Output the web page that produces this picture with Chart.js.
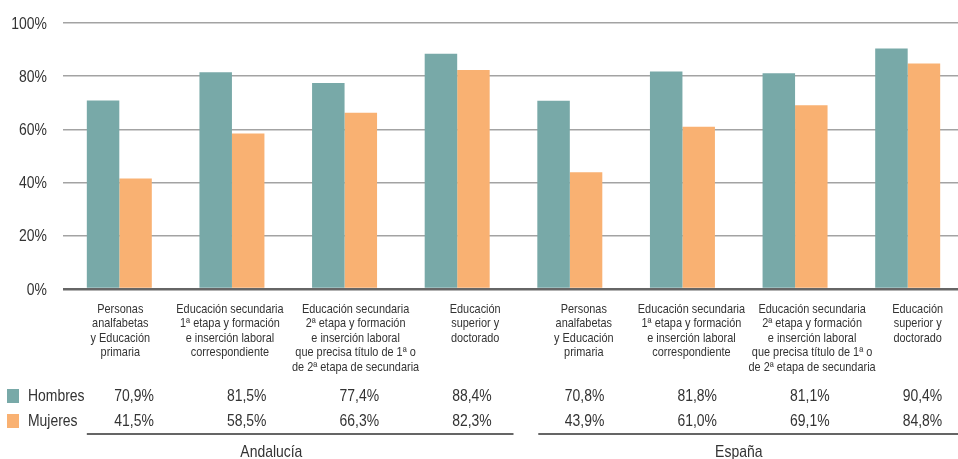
<!DOCTYPE html>
<html>
<head>
<meta charset="utf-8">
<script src="https://cdn.jsdelivr.net/npm/chart.js@4"></script>
<style>
    html, body { margin: 0; padding: 0; background: #fff; overflow: hidden; }
    #wrap { width: 964px; height: 459px; }
</style>
</head>
<body>
<div id="wrap"><canvas id="eduChart" width="964" height="459"></canvas></div>
<script>
// Datos - tasa de empleo por nivel de formación
const categorias = [
    ['Personas', 'analfabetas', 'y Educación', 'primaria'],
    ['Educación secundaria', '1ª etapa y formación', 'e inserción laboral', 'correspondiente'],
    ['Educación secundaria', '2ª etapa y formación', 'e inserción laboral', 'que precisa título de 1ª o', 'de 2ª etapa de secundaria'],
    ['Educación', 'superior y', 'doctorado'],
    ['Personas', 'analfabetas', 'y Educación', 'primaria'],
    ['Educación secundaria', '1ª etapa y formación', 'e inserción laboral', 'correspondiente'],
    ['Educación secundaria', '2ª etapa y formación', 'e inserción laboral', 'que precisa título de 1ª o', 'de 2ª etapa de secundaria'],
    ['Educación', 'superior y', 'doctorado']
];
const hombres = [70.9, 81.5, 77.4, 88.4, 70.8, 81.8, 81.1, 90.4];
const mujeres = [41.5, 58.5, 66.3, 82.3, 43.9, 61.0, 69.1, 84.8];
const regiones = ['Andalucía', 'España'];
const yTicks = [0, 20, 40, 60, 80, 100];

// las etiquetas del original no van centradas en cada grupo
const desplazEtiqueta = [1, -2, 11, 18, 14, 9, 17, 10];

// No hay Arial Narrow: se estrecha Liberation Sans a mano
const FONT = "'Liberation Sans', Arial, sans-serif";
const NARROW = 0.82;
const TEXT = '#333333';
const COL_H = '#78a9a8';
const COL_M = '#f9b172';

function fmt(v) {
    return v.toFixed(1).replace('.', ',') + '%';
}

function narrowText(c, txt, x, y, align) {
    c.save();
    c.translate(x, y);
    c.scale(NARROW, 1);
    c.textAlign = align;
    c.fillText(txt, 0, 0);
    c.restore();
}

// Textos: eje y, categorías, tabla de valores, leyenda y regiones
const tablaPlugin = {
    id: 'tabla',
    afterDraw(chart) {
        const c = chart.ctx;
        const xs = chart.scales.x;
        const ys = chart.scales.y;
        const m0 = chart.getDatasetMeta(0).data;
        const m1 = chart.getDatasetMeta(1).data;
        const rowY = [396, 421];

        c.save();
        c.fillStyle = TEXT;
        c.textBaseline = 'middle';

        // etiquetas eje y
        c.font = '17px ' + FONT;
        yTicks.forEach(v => {
            narrowText(c, v + '%', 47, ys.getPixelForValue(v) + 1, 'right');
        });

        // categorías
        c.font = '13.3px ' + FONT;
        categorias.forEach((lines, i) => {
            const x = xs.getPixelForValue(i) + desplazEtiqueta[i];
            lines.forEach((ln, k) => {
                narrowText(c, ln, x, 309 + k * 14.6, 'center');
            });
        });

        // leyenda
        [COL_H, COL_M].forEach((col, r) => {
            c.fillStyle = col;
            c.fillRect(7, rowY[r] - 7, 12, 14);
            c.fillStyle = TEXT;
            c.font = '17px ' + FONT;
            narrowText(c, chart.data.datasets[r].label, 28, rowY[r], 'left');
        });

        // valores
        c.font = '17px ' + FONT;
        [hombres, mujeres].forEach((serie, r) => {
            serie.forEach((v, i) => {
                const bar = m1[i];
                narrowText(c, fmt(v), bar.x + bar.width / 2 + 2, rowY[r], 'right');
            });
        });

        // líneas de región
        c.strokeStyle = '#333';
        c.lineWidth = 1.5;
        c.beginPath();
        c.moveTo(m0[0].x - m0[0].width / 2, 434);
        c.lineTo(xs.getPixelForValue(3.5), 434);
        c.moveTo(xs.getPixelForValue(3.72), 434);
        c.lineTo(chart.chartArea.right, 434);
        c.stroke();

        narrowText(c, regiones[0], xs.getPixelForValue(1.35), 452, 'center');
        narrowText(c, regiones[1], xs.getPixelForValue(5.5), 452, 'center');
        c.restore();
    }
};

const ctx = document.getElementById('eduChart');
new Chart(ctx, {
    type: 'bar',
    data: {
        labels: categorias,
        datasets: [{
            label: 'Hombres',
            data: hombres,
            backgroundColor: COL_H
        }, {
            label: 'Mujeres',
            data: mujeres,
            backgroundColor: COL_M
        }]
    },
    options: {
        responsive: false,
        animation: false,
        layout: { padding: { top: 23, right: 0, left: 0, bottom: 0 } },
        datasets: {
            bar: { barPercentage: 1, categoryPercentage: 0.577 }
        },
        plugins: {
            legend: { display: false },
            tooltip: { enabled: false }
        },
        scales: {
            x: {
                grid: { display: false, drawTicks: false },
                border: { display: false },
                ticks: { display: false },
                afterFit(scale) { scale.height = 170; }
            },
            y: {
                min: 0,
                max: 100,
                afterBuildTicks(scale) {
                    scale.ticks = yTicks.map(v => ({ value: v }));
                },
                grid: {
                    drawTicks: false,
                    color: c => c.tick && c.tick.value === 0 ? '#666' : '#a3a3a3',
                    lineWidth: c => c.tick && c.tick.value === 0 ? 2.5 : 1.5
                },
                border: { display: false },
                ticks: { display: false },
                afterFit(scale) { scale.width = 63; }
            }
        }
    },
    plugins: [tablaPlugin]
});
</script>
</body>
</html>
